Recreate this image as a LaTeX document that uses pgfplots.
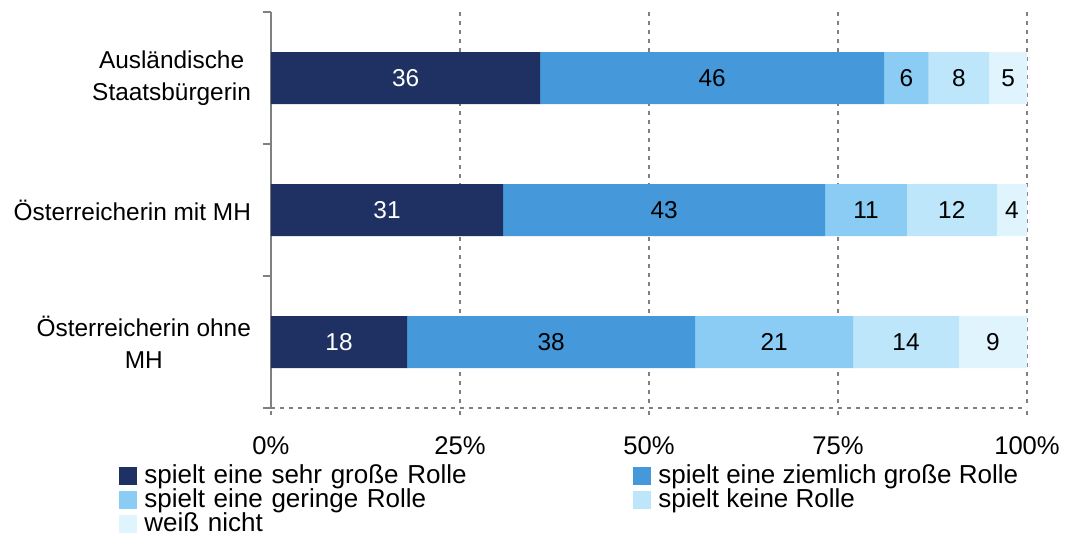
\documentclass[border=0pt]{standalone}
\usepackage{pgfplots}
\pgfplotsset{compat=1.18}
\usepackage{fontspec}
\setmainfont{Liberation Sans}
\definecolor{c1}{HTML}{1F3163}
\definecolor{c2}{HTML}{4599DA}
\definecolor{c3}{HTML}{8ACCF4}
\definecolor{c4}{HTML}{BDE6FA}
\definecolor{c5}{HTML}{DFF4FC}
\definecolor{gridgray}{HTML}{808080}
\begin{document}
\begin{tikzpicture}
\begin{axis}[
  at={(0,0)}, anchor=south west,
  scale only axis, width=378pt, height=198pt,
  xbar stacked, bar width=26pt,
  xmin=0, xmax=100, ymin=-0.5, ymax=2.5, y dir=reverse,
  axis lines*=left,
  x axis line style={gridgray, line width=0.8pt, dash pattern=on 2pt off 2.5pt, -},
  y axis line style={gridgray, line width=1pt, -},
  tick align=outside,
  xtick={0,25,50,75,100}, xticklabels={0\%,25\%,50\%,75\%,100\%},
  major x tick style={gridgray, line width=0.8pt, dash pattern=on 2pt off 2.5pt},
  major tick length=3.5pt,
  xmajorgrids,
  grid style={gridgray, line width=0.8pt, dash pattern=on 2pt off 2.5pt},
  ytick={0,1,2},
  yticklabels={{Ausländische\\Staatsbürgerin},{Österreicherin mit MH},{Österreicherin ohne\\MH}},
  major y tick style={draw=none},
  minor ytick={-0.5,0.5,1.5,2.5},
  minor y tick style={gridgray, line width=1pt},
  minor tick length=4pt,
  yticklabel style={align=center, font=\fontsize{12.2}{16}\selectfont, xshift=-3pt},
  xticklabel style={font=\fontsize{12.8}{14}\selectfont, yshift=-7.5pt},
  point meta=explicit symbolic,
  nodes near coords,
  every node near coord/.append style={font=\fontsize{12.2}{14}\selectfont, text=black},
  legend style={at={(-0.209,-0.134)}, anchor=north west, draw=none, fill=none,
    legend columns=2, row sep=1pt, column sep=0pt,
    nodes={inner xsep=3.5pt, inner ysep=0.4pt, text height=8.7pt, text depth=1.5pt, anchor=west,
      font=\fontsize{13}{14}\selectfont},
    /tikz/column 2/.style={text width=241pt}},
  legend cell align=left,
  legend image code/.code={\fill[#1] (0pt,-4.5pt) rectangle (9pt,4.5pt);},
]
\addplot[fill=c1, draw=none, every node near coord/.append style={text=white}]
  coordinates {(35.6,0) [36] (30.7,1) [31] (18.0,2) [18]};
\addplot[fill=c2, draw=none]
  coordinates {(45.5,0) [46] (42.6,1) [43] (38.1,2) [38]};
\addplot[fill=c3, draw=none]
  coordinates {(5.9,0) [6] (10.8,1) [11] (20.9,2) [21]};
\addplot[fill=c4, draw=none]
  coordinates {(8.0,0) [8] (11.9,1) [12] (14.0,2) [14]};
\addplot[fill=c5, draw=none]
  coordinates {(5.0,0) [5] (4.0,1) [4] (9.0,2) [9]};
\legend{spielt eine sehr große Rolle, spielt eine ziemlich große Rolle, spielt eine geringe Rolle, spielt keine Rolle, weiß nicht}
\end{axis}
\pgfresetboundingbox
\path (-135.5pt,-64pt) rectangle (398.5pt,204pt);
\end{tikzpicture}
\end{document}
